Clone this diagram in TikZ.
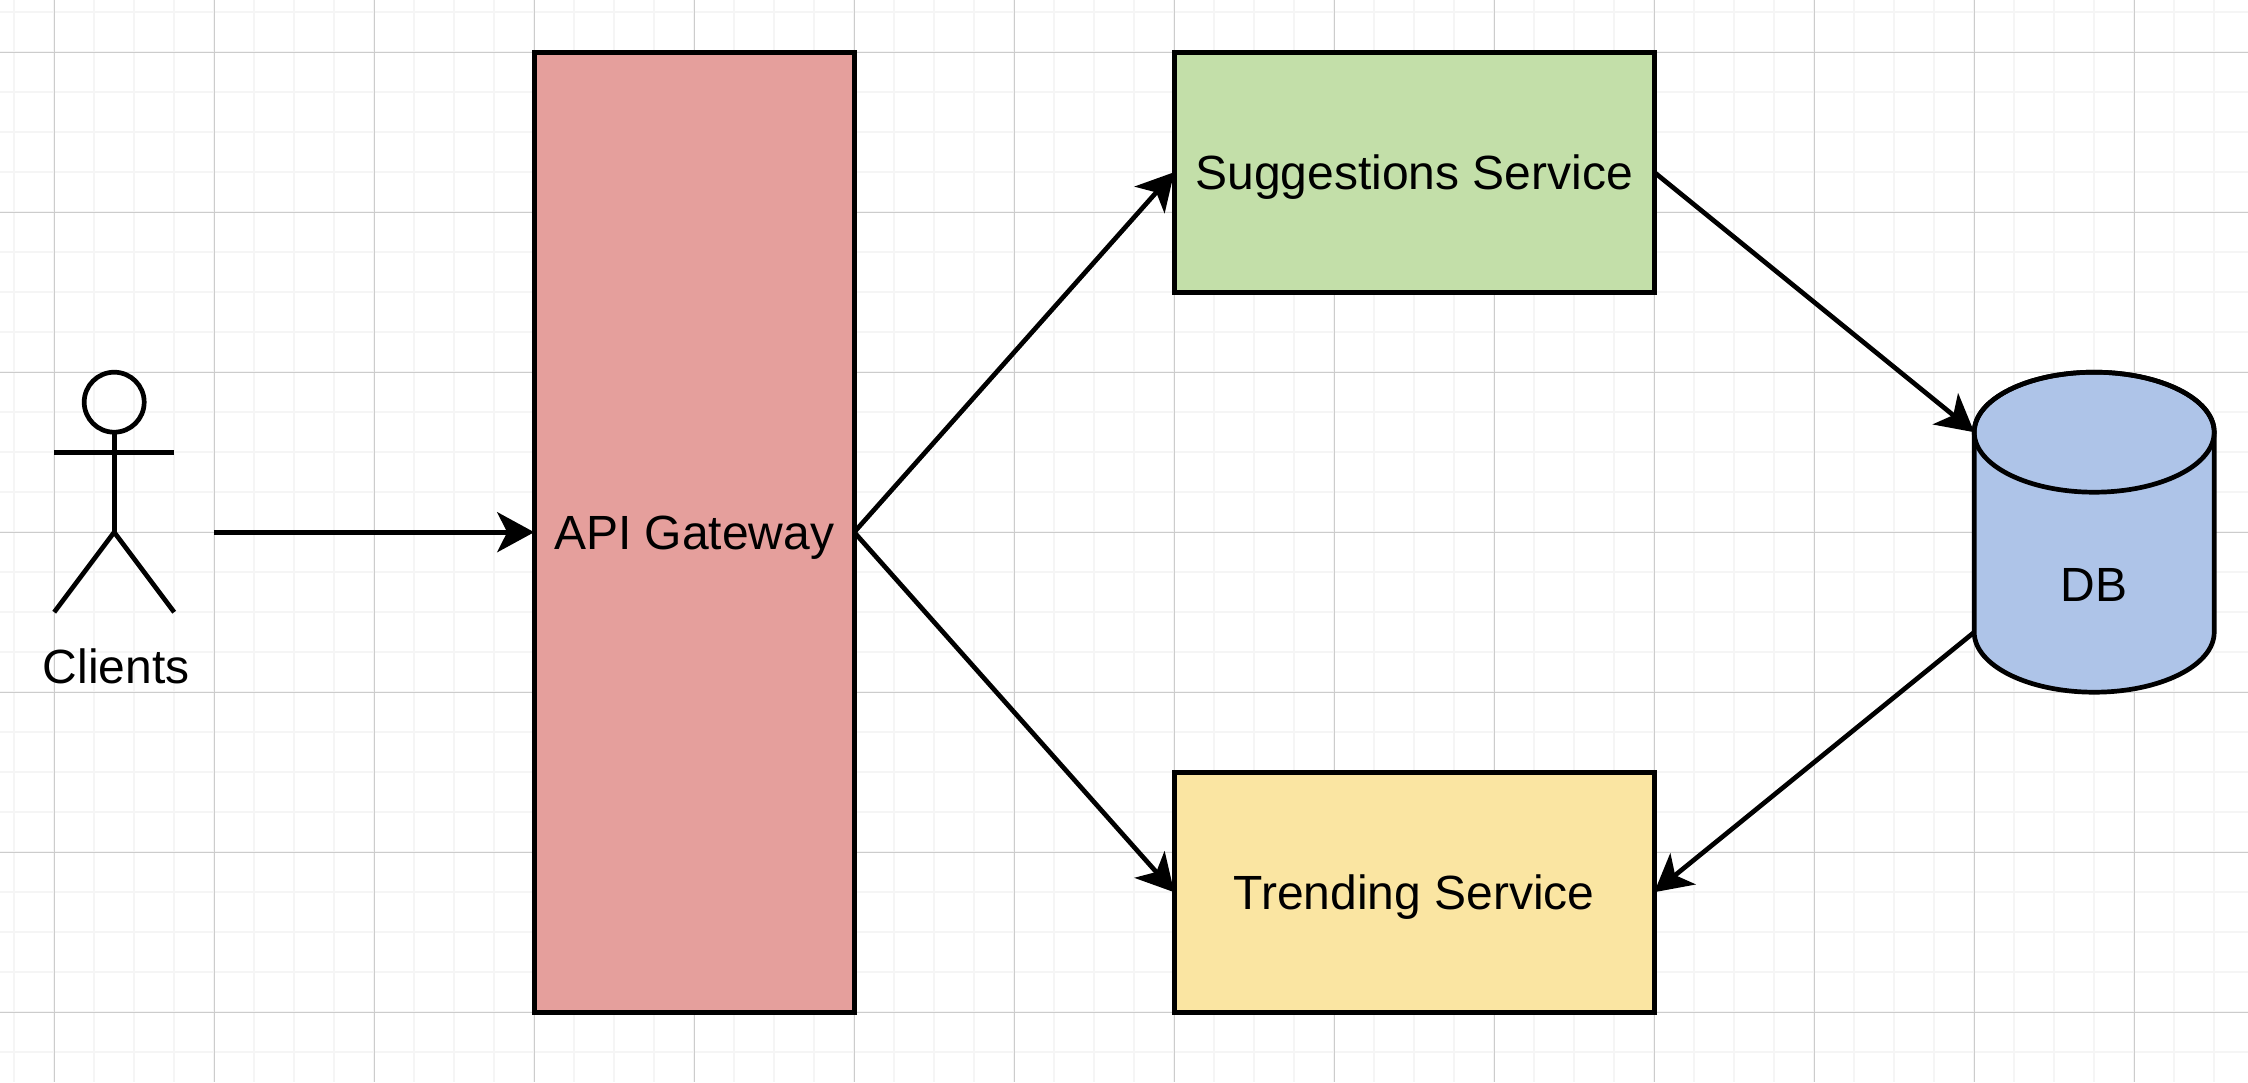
\documentclass[tikz,border=0pt]{standalone}
\usepackage{fontspec}
\setmainfont{Liberation Sans}
\usetikzlibrary{arrows.meta}
\definecolor{gridminor}{HTML}{F5F5F5}
\definecolor{gridmajor}{HTML}{CCCCCC}
\definecolor{apifill}{HTML}{E59F9C}
\definecolor{sugfill}{HTML}{C3DFA9}
\definecolor{trefill}{HTML}{FAE5A2}
\definecolor{dbfill}{HTML}{AEC4E8}
\tikzset{
  x=1pt,y=-1pt,
  minorline/.style={draw=gridminor,line width=1.7pt},
  majorline/.style={draw=gridmajor,line width=1.4pt},
  stroke/.style={draw=black,line width=4.7pt},
  box/.style={stroke,rectangle,inner sep=0pt,outer sep=0pt,align=center,
    font=\fontsize{48}{56}\selectfont,text height=35pt,text depth=0pt},
  plaintext/.style={inner sep=0pt,outer sep=0pt,font=\fontsize{48}{56}\selectfont,
    text height=35pt,text depth=0pt},
  flow/.style={stroke,-{Stealth[length=37pt,width=40pt,inset=10pt]},shorten <=0pt},
  limb/.style={stroke,line cap=butt},
}
\begin{document}
\begin{tikzpicture}
\useasboundingbox (0,0) rectangle (2248,1082);
\fill[white] (0,0) rectangle (2248,1082);
\begin{scope}[shift={(-0.3,-0.3)}]
% grid
\foreach \i in {0,...,56}{\draw[minorline] ({14.5+40*\i},0) -- ({14.5+40*\i},1082.6);}
\foreach \i in {0,...,27}{\draw[minorline] (0,{12.5+40*\i}) -- (2248.6,{12.5+40*\i});}
\foreach \i in {0,...,13}{\draw[majorline] ({54.5+160*\i},0) -- ({54.5+160*\i},1082.6);}
\foreach \i in {0,...,6}{\draw[majorline] (0,{52.5+160*\i}) -- (2248.6,{52.5+160*\i});}
% boxes
\node[box,fill=apifill,minimum width=320pt,minimum height=960pt] (api) at (694.5,532.5) {API Gateway};
\node[box,fill=sugfill,minimum width=480pt,minimum height=240pt] (sug) at (1414.5,172.5) {Suggestions Service};
\node[box,fill=trefill,minimum width=480pt,minimum height=240pt] (tre) at (1414.5,892.5) {Trending Service};
% database
\path[stroke,fill=dbfill,line join=round] (1974.5,432.5) -- (1974.5,632.5)
  arc[start angle=180,end angle=360,x radius=120pt,y radius=60pt] -- (2214.5,432.5)
  arc[start angle=0,end angle=180,x radius=120pt,y radius=60pt] -- cycle;
\path[stroke] (2094.5,432.5) ellipse[x radius=120pt,y radius=60pt];
\node[plaintext] (dblabel) at (2094.5,584.5) {DB};
\coordinate (dbin) at (1974.5,432.5);
\coordinate (dbout) at (1974.5,632.5);
% actor
\node[stroke,circle,minimum size=60pt,inner sep=0pt,outer sep=0pt] (head) at (114.5,402.5) {};
\coordinate (armL) at (54.5,452.5);
\coordinate (armR) at (174.5,452.5);
\coordinate (hip) at (114.5,532.5);
\coordinate (footL) at (54.5,612.5);
\coordinate (footR) at (174.5,612.5);
\draw[limb] (head.south) -- (hip);
\draw[limb] (armL) -- (armR);
\draw[limb] (footL) -- (hip) -- (footR);
\node[plaintext] (clients) at (116.5,666.5) {Clients};
\coordinate (clientout) at (214.5,532.5);
% connectors
\draw[flow] (clientout) -- (api.west);
\draw[flow] (api.east) -- (sug.west);
\draw[flow] (api.east) -- (tre.west);
\draw[flow] (sug.east) -- (dbin);
\draw[flow] (dbout) -- (tre.east);
\end{scope}
\end{tikzpicture}
\end{document}
